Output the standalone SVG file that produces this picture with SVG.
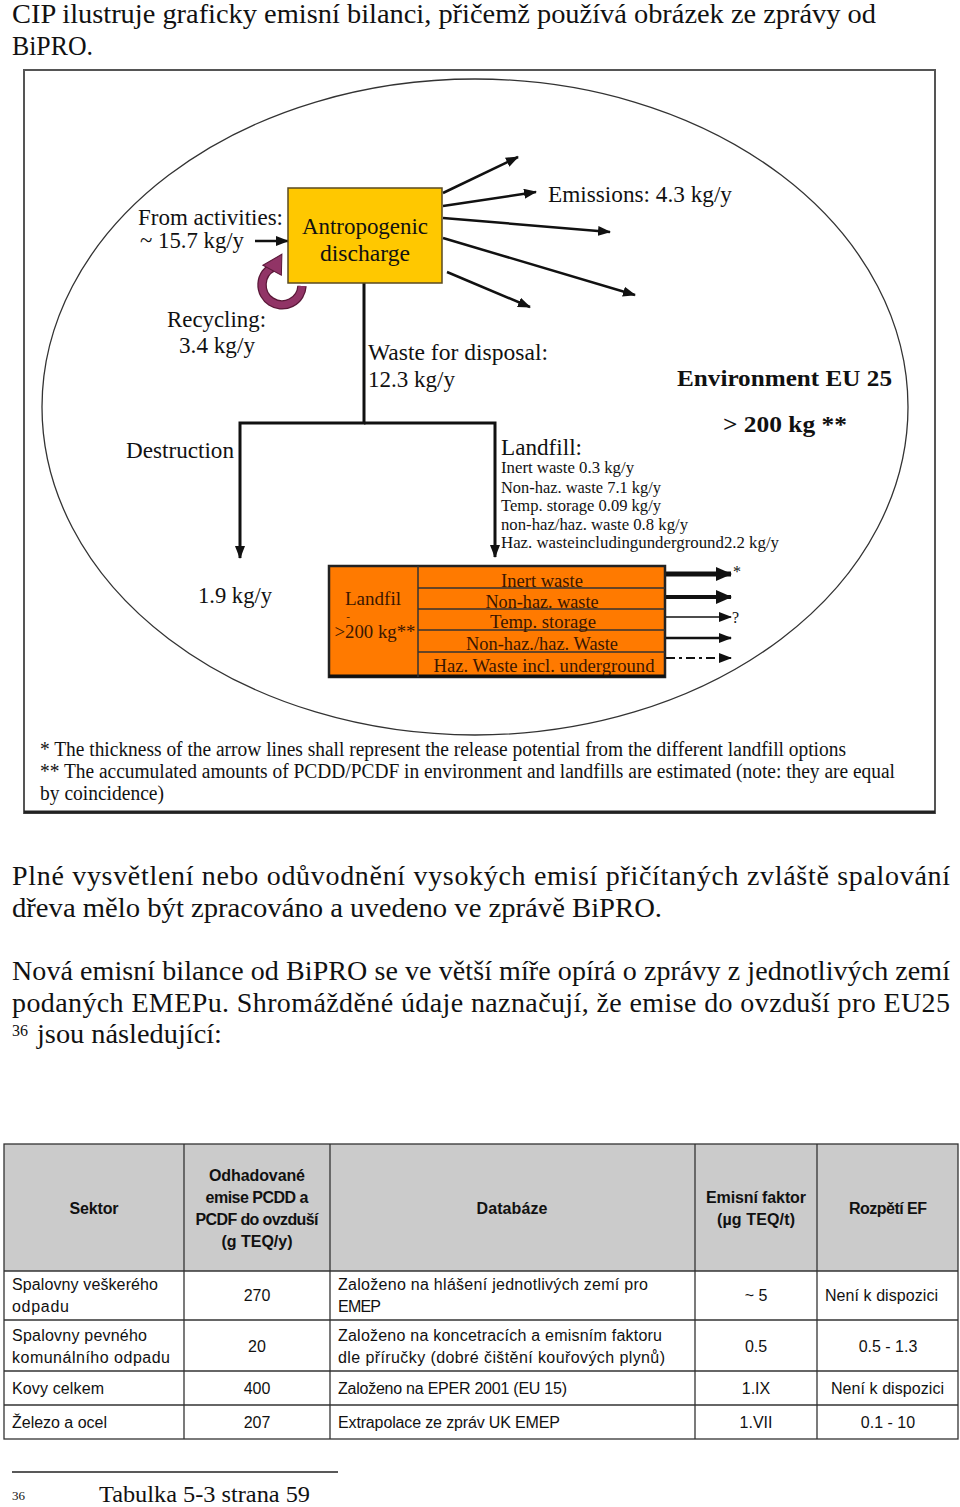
<svg xmlns="http://www.w3.org/2000/svg" width="960" height="1507" viewBox="0 0 960 1507">
<defs>
<style>
.serif{font-family:"Liberation Serif","Times New Roman",serif;fill:#111}
.body{font-family:"Liberation Serif","DejaVu Serif",serif;font-size:28px;fill:#111}
.d{font-family:"Liberation Serif","Times New Roman",serif;font-size:24px;fill:#111}
.d21{font-size:23px}
.sm{font-family:"Liberation Serif","Times New Roman",serif;font-size:16px;fill:#111}
.row{font-family:"Liberation Serif","Times New Roman",serif;font-size:18px;fill:#3a1600;text-anchor:middle}
.tb{font-family:"Liberation Sans",Arial,sans-serif;font-size:16px;fill:#111}
.th{font-family:"Liberation Sans",Arial,sans-serif;font-size:16px;font-weight:bold;fill:#111;text-anchor:middle}
.fn{font-family:"Liberation Serif","Times New Roman",serif;font-size:20px;fill:#111}
.c{text-anchor:middle}
.ln{stroke:#111;fill:none}
.grid{stroke:#333;stroke-width:1.3;fill:none}
</style>
<marker id="ah" markerUnits="userSpaceOnUse" markerWidth="13" markerHeight="10" refX="12" refY="5" orient="auto"><path d="M0,0 L13,5 L0,10 z" fill="#111"/></marker>
<marker id="ahB" markerUnits="userSpaceOnUse" markerWidth="16" markerHeight="14" refX="15" refY="7" orient="auto"><path d="M0,0 L16,7 L0,14 z" fill="#111"/></marker>
</defs>
<rect width="960" height="1507" fill="#fff"/>

<!-- top text -->
<text class="body" x="12" y="23" textLength="864" lengthAdjust="spacingAndGlyphs">CIP ilustruje graficky emisní bilanci, přičemž používá obrázek ze zprávy od</text>
<text class="body" x="12" y="55" textLength="81" lengthAdjust="spacingAndGlyphs">BiPRO.</text>

<!-- figure frame -->
<g id="figure">
<rect x="24" y="70" width="911" height="743" fill="#fff" stroke="#555" stroke-width="2"/>
<line x1="24" y1="812" x2="935" y2="812" stroke="#222" stroke-width="3"/>
<ellipse id="environment" cx="475" cy="407" rx="433" ry="328" fill="none" stroke="#333" stroke-width="1.3"/>
</g>

<g id="connectors">
<line class="ln" x1="255" y1="241" x2="288" y2="241" stroke-width="2.5" marker-end="url(#ah)"/>
<line class="ln" x1="443" y1="193" x2="518" y2="157" stroke-width="2.5" marker-end="url(#ah)"/>
<line class="ln" x1="443" y1="206" x2="536" y2="192" stroke-width="2.5" marker-end="url(#ah)"/>
<line class="ln" x1="443" y1="218" x2="610" y2="232" stroke-width="2.5" marker-end="url(#ah)"/>
<line class="ln" x1="443" y1="238" x2="635" y2="295" stroke-width="2.5" marker-end="url(#ah)"/>
<line class="ln" x1="447" y1="272" x2="530" y2="307" stroke-width="2.5" marker-end="url(#ah)"/>
<polyline class="ln" points="364,283 364,423 240,423 240,558" stroke-width="3" marker-end="url(#ah)"/>
<polyline class="ln" points="364,423 495,423 495,557" stroke-width="3" marker-end="url(#ah)"/>
<line class="ln" x1="666" y1="574" x2="731" y2="574" stroke-width="5" marker-end="url(#ahB)"/>
<line class="ln" x1="666" y1="597" x2="731" y2="597" stroke-width="4" marker-end="url(#ahB)"/>
<line class="ln" x1="666" y1="617" x2="731" y2="617" stroke-width="1.5" marker-end="url(#ah)"/>
<line class="ln" x1="666" y1="638" x2="731" y2="638" stroke-width="2.5" marker-end="url(#ah)"/>
<line class="ln" x1="666" y1="658" x2="731" y2="658" stroke-width="2" stroke-dasharray="9,4,3,4" marker-end="url(#ah)"/>
<!-- recycling -->
<g id="recycling-arrow">
<path d="M302 286 A20 20 0 1 1 273 267" fill="none" stroke="#5a1838" stroke-width="9.5"/>
<path d="M302 286 A20 20 0 1 1 273 267" fill="none" stroke="#913466" stroke-width="7"/>
<polygon points="288,259 277,277 266,259" fill="#913466" stroke="#5a1838" stroke-width="1" transform="rotate(-30 276 268)"/>
</g>
</g>

<g id="node-antropogenic">
<rect x="288" y="188" width="154" height="95" fill="#FFC800" stroke="#5a4a20" stroke-width="1.5"/>
<text class="d c" x="365" y="234" textLength="126" lengthAdjust="spacingAndGlyphs">Antropogenic</text>
<text class="d c" x="365" y="261" textLength="90" lengthAdjust="spacingAndGlyphs">discharge</text>
</g>

<g id="label-activities">
<text class="d" x="138" y="225" textLength="145" lengthAdjust="spacingAndGlyphs">From activities:</text>
<text class="d" x="140" y="248" textLength="104" lengthAdjust="spacingAndGlyphs">~ 15.7 kg/y</text>
</g>
<g id="label-recycling">
<text class="d" x="167" y="327" textLength="99" lengthAdjust="spacingAndGlyphs">Recycling:</text>
<text class="d" x="179" y="353" textLength="76" lengthAdjust="spacingAndGlyphs">3.4 kg/y</text>
</g>
<g id="label-emissions">
<text class="d" x="548" y="202" textLength="184" lengthAdjust="spacingAndGlyphs">Emissions: 4.3 kg/y</text>
</g>
<g id="label-waste">
<text class="d" x="368" y="360" textLength="180" lengthAdjust="spacingAndGlyphs">Waste for disposal:</text>
<text class="d" x="368" y="387" textLength="87" lengthAdjust="spacingAndGlyphs">12.3 kg/y</text>
</g>
<g id="label-environment">
<text class="d" x="677" y="386" font-weight="bold" textLength="215" lengthAdjust="spacingAndGlyphs">Environment EU 25</text>
<text class="d" x="723" y="432" font-weight="bold" textLength="124" lengthAdjust="spacingAndGlyphs">&gt; 200 kg **</text>
</g>
<g id="label-destruction">
<text class="d d21" x="126" y="458" textLength="108" lengthAdjust="spacingAndGlyphs">Destruction</text>
<text class="d d21" x="198" y="603" textLength="74" lengthAdjust="spacingAndGlyphs">1.9 kg/y</text>
</g>
<g id="label-landfill">
<text class="d d21" x="501" y="455" textLength="81" lengthAdjust="spacingAndGlyphs">Landfill:</text>
<text class="sm" x="501" y="473" textLength="133" lengthAdjust="spacingAndGlyphs">Inert waste 0.3 kg/y</text>
<text class="sm" x="501" y="493" textLength="160" lengthAdjust="spacingAndGlyphs">Non-haz. waste 7.1 kg/y</text>
<text class="sm" x="501" y="511" textLength="160" lengthAdjust="spacingAndGlyphs">Temp. storage 0.09 kg/y</text>
<text class="sm" x="501" y="530" textLength="187" lengthAdjust="spacingAndGlyphs">non-haz/haz. waste 0.8 kg/y</text>
<text class="sm" x="501" y="548" textLength="278" lengthAdjust="spacingAndGlyphs">Haz. wasteincludingunderground2.2 kg/y</text>
</g>

<g id="node-landfill">
<rect x="329" y="566" width="336" height="111" fill="#FF7A00" stroke="#222" stroke-width="2.5"/>
<line x1="329" y1="676" x2="665" y2="676" stroke="#111" stroke-width="3"/>
<line x1="418" y1="566" x2="418" y2="677" stroke="#333" stroke-width="1.5"/>
<line x1="418" y1="588" x2="665" y2="588" stroke="#333" stroke-width="1.5"/>
<line x1="418" y1="609" x2="665" y2="609" stroke="#333" stroke-width="1.5"/>
<line x1="418" y1="630" x2="665" y2="630" stroke="#333" stroke-width="1.5"/>
<line x1="418" y1="652" x2="665" y2="652" stroke="#333" stroke-width="1.5"/>
<text class="row" x="542" y="587" textLength="82" lengthAdjust="spacingAndGlyphs">Inert waste</text>
<text class="row" x="542" y="608" textLength="113" lengthAdjust="spacingAndGlyphs">Non-haz. waste</text>
<text class="row" x="543" y="628" textLength="106" lengthAdjust="spacingAndGlyphs">Temp. storage</text>
<text class="row" x="542" y="650" textLength="152" lengthAdjust="spacingAndGlyphs">Non-haz./haz. Waste</text>
<text class="row" x="544" y="672" textLength="221" lengthAdjust="spacingAndGlyphs">Haz. Waste incl. underground</text>
<text class="row" x="373" y="605" textLength="56" lengthAdjust="spacingAndGlyphs">Landfil</text>
<text class="row" x="348" y="620" style="font-size:11px">-</text>
<text class="row" x="375" y="638" textLength="81" lengthAdjust="spacingAndGlyphs">&gt;200 kg**</text>
<text class="serif" x="733" y="577" style="font-size:16px">*</text>
<text class="serif" x="732" y="623" style="font-size:16px">?</text>
</g>

<g id="footnotes">
<text class="fn" x="40" y="756" textLength="806" lengthAdjust="spacingAndGlyphs">* The thickness of the arrow lines shall represent the release potential from the different landfill options</text>
<text class="fn" x="40" y="778" textLength="855" lengthAdjust="spacingAndGlyphs">** The accumulated amounts of PCDD/PCDF in environment and landfills are estimated (note: they are equal</text>
<text class="fn" x="40" y="800" textLength="124" lengthAdjust="spacingAndGlyphs">by coincidence)</text>
</g>

<!-- paragraphs -->
<text class="body" x="12" y="885" textLength="938">Plné vysvětlení nebo odůvodnění vysokých emisí přičítaných zvláště spalování</text>
<text class="body" x="12" y="917" textLength="650" lengthAdjust="spacingAndGlyphs">dřeva  mělo být zpracováno a uvedeno ve zprávě BiPRO.</text>
<text class="body" x="12" y="980" textLength="938">Nová emisní bilance od BiPRO se ve větší míře opírá o zprávy z jednotlivých zemí</text>
<text class="body" x="12" y="1012" textLength="938">podaných EMEPu. Shromážděné údaje naznačují, že emise do ovzduší pro EU25</text>
<text class="serif" x="12" y="1036" style="font-size:16px">36</text>
<text class="body" x="37" y="1043" textLength="185" lengthAdjust="spacingAndGlyphs">jsou následující:</text>

<!-- table -->
<g id="table">
<rect x="4" y="1144" width="954" height="127" fill="#CBCBCB"/>
<rect x="4" y="1144" width="954" height="295" class="grid" stroke-width="1.6"/>
<line class="grid" x1="4" y1="1271" x2="958" y2="1271"/>
<line class="grid" x1="4" y1="1320" x2="958" y2="1320"/>
<line class="grid" x1="4" y1="1371" x2="958" y2="1371"/>
<line class="grid" x1="4" y1="1405" x2="958" y2="1405"/>
<line class="grid" x1="184" y1="1144" x2="184" y2="1439"/>
<line class="grid" x1="330" y1="1144" x2="330" y2="1439"/>
<line class="grid" x1="695" y1="1144" x2="695" y2="1439"/>
<line class="grid" x1="817" y1="1144" x2="817" y2="1439"/>

<text class="th" x="94" y="1214" textLength="49">Sektor</text>
<text class="th" x="257" y="1181" textLength="96">Odhadované</text>
<text class="th" x="257" y="1203" textLength="103">emise PCDD a</text>
<text class="th" x="257" y="1225" textLength="123">PCDF do ovzduší</text>
<text class="th" x="257" y="1247" textLength="71">(g TEQ/y)</text>
<text class="th" x="512" y="1214" textLength="71">Databáze</text>
<text class="th" x="756" y="1203" textLength="100">Emisní faktor</text>
<text class="th" x="756" y="1225" textLength="78">(µg TEQ/t)</text>
<text class="th" x="888" y="1214" textLength="78">Rozpětí EF</text>

<text class="tb" x="12" y="1290" textLength="146">Spalovny veškerého</text>
<text class="tb" x="12" y="1312" textLength="57">odpadu</text>
<text class="tb c" x="257" y="1301">270</text>
<text class="tb" x="338" y="1290" textLength="310">Založeno na hlášení  jednotlivých zemí pro</text>
<text class="tb" x="338" y="1312" textLength="43">EMEP</text>
<text class="tb c" x="756" y="1301">~ 5</text>
<text class="tb" x="825" y="1301" textLength="113">Není k dispozici</text>

<text class="tb" x="12" y="1341" textLength="135">Spalovny pevného</text>
<text class="tb" x="12" y="1363" textLength="158">komunálního odpadu</text>
<text class="tb c" x="257" y="1352">20</text>
<text class="tb" x="338" y="1341" textLength="324">Založeno na koncetracích a emisním faktoru</text>
<text class="tb" x="338" y="1363" textLength="327">dle příručky  (dobré čištění kouřových plynů)</text>
<text class="tb c" x="756" y="1352">0.5</text>
<text class="tb c" x="888" y="1352">0.5 - 1.3</text>

<text class="tb" x="12" y="1394" textLength="92">Kovy celkem</text>
<text class="tb c" x="257" y="1394">400</text>
<text class="tb" x="338" y="1394" textLength="229">Založeno na EPER 2001 (EU 15)</text>
<text class="tb c" x="756" y="1394">1.IX</text>
<text class="tb" x="831" y="1394" textLength="113">Není k dispozici</text>

<text class="tb" x="12" y="1428" textLength="95">Železo a ocel</text>
<text class="tb c" x="257" y="1428">207</text>
<text class="tb" x="338" y="1428" textLength="222">Extrapolace ze zpráv UK EMEP</text>
<text class="tb c" x="756" y="1428">1.VII</text>
<text class="tb c" x="888" y="1428">0.1 - 10</text>
</g>

<!-- footnote -->
<line x1="12" y1="1472" x2="338" y2="1472" stroke="#222" stroke-width="1.5"/>
<text class="serif" x="12" y="1500" style="font-size:13px">36</text>
<text class="serif" x="99" y="1502" style="font-size:23px" textLength="211" lengthAdjust="spacingAndGlyphs">Tabulka 5-3 strana 59</text>
</svg>
